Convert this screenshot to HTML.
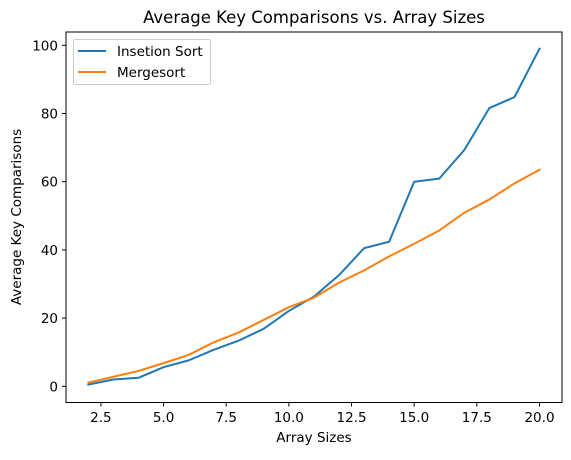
<!DOCTYPE html>
<html><head><meta charset="utf-8"><style>
body{margin:0;background:#fff;}
svg text{font-family:"DejaVu Sans","Liberation Sans",sans-serif;fill:#000;}
</style></head><body>
<svg id="chart" width="571" height="455" xmlns="http://www.w3.org/2000/svg">
<rect width="571" height="455" fill="#fff"/>
<text x="314" y="23" font-size="16.5" text-anchor="middle">Average Key Comparisons vs. Array Sizes</text>
<text x="314" y="442" font-size="13.5" text-anchor="middle">Array Sizes</text>
<text transform="translate(21,217) rotate(-90)" font-size="13.5" text-anchor="middle">Average Key Comparisons</text>
<g id="ticks"></g>
<g id="series"></g>
<rect x="66" y="32" width="496" height="370.5" fill="none" stroke="#000" stroke-width="1"/>
<g>
<rect x="73.5" y="39.5" width="137" height="45" rx="2" fill="#fff" fill-opacity="0.8" stroke="#ccc"/>
<line x1="78" y1="51" x2="106" y2="51" stroke="#1f77b4" stroke-width="2"/>
<text x="117" y="56" font-size="13.5">Insetion Sort</text>
<line x1="78" y1="72" x2="106" y2="72" stroke="#ff7f0e" stroke-width="2"/>
<text x="117" y="77" font-size="13.5">Mergesort</text>
</g>
</svg>
<script>
const sizes=[2,3,4,5,6,7,8,9,10,11,12,13,14,15,16,17,18,19,20];
const insertionValues=[0.5,2,2.5,5.6,7.6,10.7,13.4,16.9,22.1,26.3,32.6,40.5,42.4,60,60.9,69.3,81.6,84.8,99];
const mergeValues=[1.1,2.8,4.5,6.8,9.2,12.9,15.8,19.5,23.2,26,30.4,34,38.1,41.8,45.7,50.9,54.8,59.5,63.5];
const xTicks=[2.5,5,7.5,10,12.5,15,17.5,20];
const xTickLabels=["2.5","5.0","7.5","10.0","12.5","15.0","17.5","20.0"];
const yTicks=[0,20,40,60,80,100];
const yTickLabels=["0","20","40","60","80","100"];
const NS="http://www.w3.org/2000/svg";
function xs(v){return 100.9+(v-2.5)*(539.5-100.9)/17.5;}
function ys(v){return 386.3-v*(386.3-45.3)/100;}
const tg=document.getElementById('ticks');
function mk(tag,attrs,parent){const e=document.createElementNS(NS,tag);for(const k in attrs)e.setAttribute(k,attrs[k]);parent.appendChild(e);return e;}
xTicks.forEach((t,i)=>{
  const l=mk('line',{x1:xs(t),x2:xs(t),y1:402.5,y2:406.5,stroke:'#000'},tg);
  
  
  const tx=mk('text',{x:xs(t),y:422,'font-size':'13.5','text-anchor':'middle'},tg);
  tx.textContent=xTickLabels[i];
  
  
});
yTicks.forEach((t,i)=>{
  const l=mk('line',{x1:62,x2:66,y1:ys(t),y2:ys(t),stroke:'#000'},tg);
  
  
  const tx=mk('text',{x:58,y:ys(t)+5,'font-size':'13.5','text-anchor':'end'},tg);
  tx.textContent=yTickLabels[i];
  
  
});
const sg=document.getElementById('series');
function line(vals,color,name){
  const p=mk('polyline',{points:sizes.map((s,i)=>xs(s)+','+ys(vals[i])).join(' '),fill:'none',stroke:color,'stroke-width':'2','stroke-linejoin':'round','stroke-linecap':'square'},sg);
  
  
}
line(insertionValues,'#1f77b4','insertion-sort-line');
line(mergeValues,'#ff7f0e','mergesort-line');
</script>
</body></html>
